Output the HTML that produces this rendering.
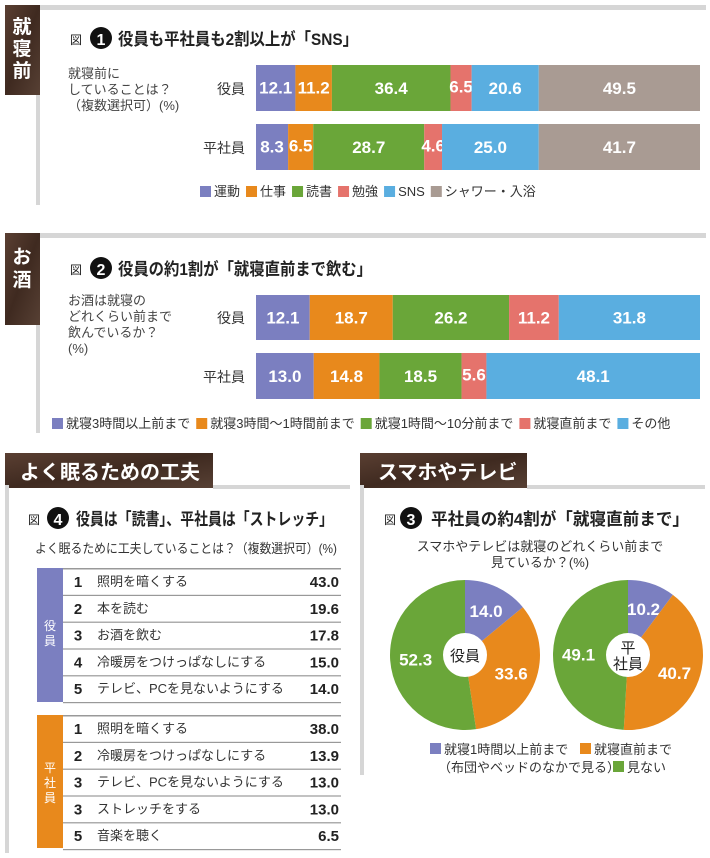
<!DOCTYPE html>
<html><head><meta charset="utf-8"><style>
html,body{margin:0;padding:0;background:#fff;}
svg{display:block;font-family:"Liberation Sans","Noto Sans CJK JP",sans-serif;}
.lbl{fill:#fff;font-weight:bold;font-size:17px;text-anchor:middle;}
.t{fill:#222;}
</style></head><body>
<svg id="s" width="710" height="858" viewBox="0 0 710 858" xmlns="http://www.w3.org/2000/svg">
<defs>
<linearGradient id="br" x1="0" y1="0" x2="1" y2="1"><stop offset="0" stop-color="#5a3f32"/><stop offset="0.5" stop-color="#3f2a20"/><stop offset="1" stop-color="#574034"/></linearGradient>
</defs>
<!-- Section 1 -->
<g>
<rect x="38" y="5" width="668" height="5" fill="#d6d6d6"/>
<rect x="36" y="5" width="4" height="200" fill="#d6d6d6"/>
<rect x="5" y="5" width="35" height="90" fill="url(#br)"/>
<text x="22" y="33" fill="#fff" font-size="19" font-weight="bold" text-anchor="middle">就</text>
<text x="22" y="55" fill="#fff" font-size="19" font-weight="bold" text-anchor="middle">寝</text>
<text x="22" y="77" fill="#fff" font-size="19" font-weight="bold" text-anchor="middle">前</text>
<g>
<text x="70" y="44" font-size="12" class="t">図</text>
<circle cx="101" cy="38" r="11" fill="#111"/><text x="101" y="45" fill="#fff" font-size="16" font-weight="bold" text-anchor="middle">1</text>
<text x="118" y="45" font-size="17" font-weight="bold" class="t" textLength="240" lengthAdjust="spacingAndGlyphs">役員も平社員も2割以上が「SNS」</text>
</g>
<text x="68" y="78" font-size="13" fill="#444">就寝前に</text>
<text x="68" y="94" font-size="13" fill="#444">していることは？</text>
<text x="68" y="110" font-size="13" fill="#444">（複数選択可）(%)</text>
<text x="245" y="94" font-size="14" fill="#333" text-anchor="end">役員</text>
<text x="245" y="153" font-size="14" fill="#333" text-anchor="end">平社員</text>
<g id="bars1"></g>
<g id="leg1"></g>
</g>
<!-- Section 2 -->
<g>
<rect x="38" y="233" width="668" height="5" fill="#d6d6d6"/>
<rect x="36" y="233" width="4" height="200" fill="#d6d6d6"/>
<rect x="5" y="233" width="35" height="92" fill="url(#br)"/>
<text x="22" y="263" fill="#fff" font-size="19" font-weight="bold" text-anchor="middle">お</text>
<text x="22" y="286" fill="#fff" font-size="19" font-weight="bold" text-anchor="middle">酒</text>
<g>
<text x="70" y="274" font-size="12" class="t">図</text>
<circle cx="101" cy="268" r="11" fill="#111"/><text x="101" y="275" fill="#fff" font-size="16" font-weight="bold" text-anchor="middle">2</text>
<text x="118" y="275" font-size="17" font-weight="bold" class="t" textLength="254" lengthAdjust="spacingAndGlyphs">役員の約1割が「就寝直前まで飲む」</text>
</g>
<text x="68" y="305" font-size="13" fill="#444">お酒は就寝の</text>
<text x="68" y="321" font-size="13" fill="#444">どれくらい前まで</text>
<text x="68" y="337" font-size="13" fill="#444">飲んでいるか？</text>
<text x="68" y="353" font-size="13" fill="#444">(%)</text>
<text x="245" y="323" font-size="14" fill="#333" text-anchor="end">役員</text>
<text x="245" y="382" font-size="14" fill="#333" text-anchor="end">平社員</text>
<g id="bars2"></g>
<g id="leg2"></g>
</g>
<!-- Section 4 -->
<g>
<rect x="5" y="453" width="208" height="35" fill="url(#br)"/>
<text x="20" y="479" fill="#fff" font-size="20" font-weight="bold">よく眠るための工夫</text>
<rect x="213" y="485" width="137" height="4" fill="#d6d6d6"/>
<rect x="5" y="485" width="4" height="368" fill="#d6d6d6"/>
<g>
<text x="28" y="524" font-size="12" class="t">図</text>
<circle cx="58" cy="518" r="11" fill="#111"/><text x="58" y="525" fill="#fff" font-size="16" font-weight="bold" text-anchor="middle">4</text>
<text x="76" y="525" font-size="17" font-weight="bold" class="t" textLength="257" lengthAdjust="spacingAndGlyphs">役員は「読書」、平社員は「ストレッチ」</text>
</g>
<text x="35" y="553" font-size="13" fill="#333" textLength="302" lengthAdjust="spacingAndGlyphs">よく眠るために工夫していることは？（複数選択可）(%)</text>
<rect x="37" y="568" width="26" height="134" fill="#7b7fc0"/>
<text x="50" y="630" fill="#fff" font-size="12" text-anchor="middle">役</text>
<text x="50" y="645" fill="#fff" font-size="12" text-anchor="middle">員</text>
<rect x="37" y="715" width="26" height="133" fill="#e8891c"/>
<text x="50" y="772" fill="#fff" font-size="12" text-anchor="middle">平</text>
<text x="50" y="787" fill="#fff" font-size="12" text-anchor="middle">社</text>
<text x="50" y="802" fill="#fff" font-size="12" text-anchor="middle">員</text>
<g id="tbl"></g>
</g>
<!-- Section 3 -->
<g>
<rect x="360" y="453" width="167" height="35" fill="url(#br)"/>
<text x="378" y="479" fill="#fff" font-size="20" font-weight="bold">スマホやテレビ</text>
<rect x="527" y="485" width="178" height="4" fill="#d6d6d6"/>
<rect x="360" y="485" width="4" height="290" fill="#d6d6d6"/>
<g>
<text x="384" y="524" font-size="12" class="t">図</text>
<circle cx="411" cy="518" r="11" fill="#111"/><text x="411" y="525" fill="#fff" font-size="16" font-weight="bold" text-anchor="middle">3</text>
<text x="431" y="525" font-size="17" font-weight="bold" class="t" textLength="258" lengthAdjust="spacingAndGlyphs">平社員の約4割が「就寝直前まで」</text>
</g>
<text x="540" y="551" font-size="13" fill="#333" text-anchor="middle">スマホやテレビは就寝のどれくらい前まで</text>
<text x="540" y="567" font-size="13" fill="#333" text-anchor="middle">見ているか？(%)</text>
<g id="pies"></g>
<g>
<rect x="430" y="743" width="11" height="11" fill="#7b7fc0"/><text x="444" y="754" font-size="13" fill="#333">就寝1時間以上前まで</text>
<rect x="580" y="743" width="11" height="11" fill="#e8891c"/><text x="594" y="754" font-size="13" fill="#333">就寝直前まで</text>
<text x="438" y="772" font-size="13" fill="#333">（布団やベッドのなかで見る）</text>
<rect x="613" y="761" width="11" height="11" fill="#6aa639"/><text x="627" y="772" font-size="13" fill="#333">見ない</text>
</g>
</g>
</svg>
<script>
const NS="http://www.w3.org/2000/svg";
const cats1=["運動","仕事","読書","勉強","SNS","シャワー・入浴"];
const exec1=[12.1,11.2,36.4,6.5,20.6,49.5];
const staff1=[8.3,6.5,28.7,4.6,25.0,41.7];
const cats2=["就寝3時間以上前まで","就寝3時間～1時間前まで","就寝1時間～10分前まで","就寝直前まで","その他"];
const exec2=[12.1,18.7,26.2,11.2,31.8];
const staff2=[13.0,14.8,18.5,5.6,48.1];
const pieCats=["就寝1時間以上前まで","就寝直前まで","見ない"];
const pieExec=[14.0,33.6,52.3];
const pieStaff=[10.2,40.7,49.1];
const execTips=["照明を暗くする","本を読む","お酒を飲む","冷暖房をつけっぱなしにする","テレビ、PCを見ないようにする"];
const execRanks=["1","2","3","4","5"];
const execTipVals=[43.0,19.6,17.8,15.0,14.0];
const staffTips=["照明を暗くする","冷暖房をつけっぱなしにする","テレビ、PCを見ないようにする","ストレッチをする","音楽を聴く"];
const staffRanks=["1","2","3","3","5"];
const staffTipVals=[38.0,13.9,13.0,13.0,6.5];
const C6=["#7b7fc0","#e8891c","#6aa639","#e5736c","#5aaee0","#a99b93"];
const C5=["#7b7fc0","#e8891c","#6aa639","#e5736c","#5aaee0"];
function mk(t,a,p){const e=document.createElementNS(NS,t);for(const k in a)e.setAttribute(k,a[k]);p.appendChild(e);return e;}
function stack(g,vals,y,h,colors,nm){
  const x0=256,x1=700,tot=vals.reduce((a,b)=>a+b,0);let x=x0;
  vals.forEach((v,i)=>{const w=v/tot*(x1-x0);
    const r=mk("rect",{x:x,y:y,width:w,height:h,fill:colors[i]},g);
    
    
    const fs=w<26?12:(w<40?15:17);
    const t=mk("text",{x:x+w/2,y:y+h/2+fs*0.36,class:"lbl","font-size":fs},g);t.textContent=v.toFixed(1);
    
    
    x+=w;});
}
function legend(g,cats,colors,x,y,gap){
  cats.forEach((c,i)=>{mk("rect",{x:x,y:y-10,width:11,height:11,fill:colors[i]},g);
    const t=mk("text",{x:x+14,y:y,"font-size":13,fill:"#333"},g);t.textContent=c;
    
    
    x+=14+t.getComputedTextLength()+gap;});
}
const b1=document.getElementById("bars1");
stack(b1,exec1,65,46,C6,"chart1-exec");stack(b1,staff1,124,46,C6,"chart1-staff");
legend(document.getElementById("leg1"),cats1,C6,200,196,6);
const b2=document.getElementById("bars2");
stack(b2,exec2,295,45,C5,"chart2-exec");stack(b2,staff2,353,46,C5,"chart2-staff");
legend(document.getElementById("leg2"),cats2,C5,52,428,6);
const tb=document.getElementById("tbl");
function rows(names,ranks,vals,y0){
  mk("rect",{x:63,y:y0,width:278,height:1.5,fill:"#999"},tb);
  names.forEach((n,i)=>{const y=y0+i*26.8;
    mk("rect",{x:63,y:y+26.8,width:278,height:1.2,fill:"#999"},tb);
    const r=mk("text",{x:78,y:y+19,"font-size":15,"font-weight":"bold",fill:"#222","text-anchor":"middle"},tb);r.textContent=ranks[i];
    const t=mk("text",{x:97,y:y+18,"font-size":13,fill:"#333"},tb);t.textContent=n;
    
    
    const v=mk("text",{x:339,y:y+19,"font-size":15,"font-weight":"bold",fill:"#222","text-anchor":"end"},tb);v.textContent=vals[i].toFixed(1);});
}
rows(execTips,execRanks,execTipVals,568);
rows(staffTips,staffRanks,staffTipVals,715);
const pg=document.getElementById("pies");
function pie(vals,cx,cy,R,center,nm){
  const tot=vals.reduce((a,b)=>a+b,0);let a=0;
  vals.forEach((v,i)=>{const a0=a,a1=a+v/tot*2*Math.PI;a=a1;
    const p=(t)=>[cx+R*Math.sin(t),cy-R*Math.cos(t)];
    const [x0,y0]=p(a0),[x1,y1]=p(a1);
    const path=mk("path",{d:`M${cx},${cy}L${x0},${y0}A${R},${R} 0 ${a1-a0>Math.PI?1:0} 1 ${x1},${y1}Z`,fill:C5[i]},pg);
    
    
    const m=(a0+a1)/2,rr=R*0.66;
    const t=mk("text",{x:cx+rr*Math.sin(m),y:cy-rr*Math.cos(m)+7,class:"lbl","font-size":19},pg);t.textContent=v.toFixed(1);});
  mk("circle",{cx:cx,cy:cy,r:22,fill:"#fff"},pg);
  center.forEach((s,j)=>{const t=mk("text",{x:cx,y:cy+6+(j-(center.length-1)/2)*16,"font-size":15,fill:"#222","text-anchor":"middle"},pg);t.textContent=s;});
}
pie(pieExec,465,655,75,["役員"],"pie-exec");
pie(pieStaff,628,655,75,["平","社員"],"pie-staff");
</script>
</body></html>
